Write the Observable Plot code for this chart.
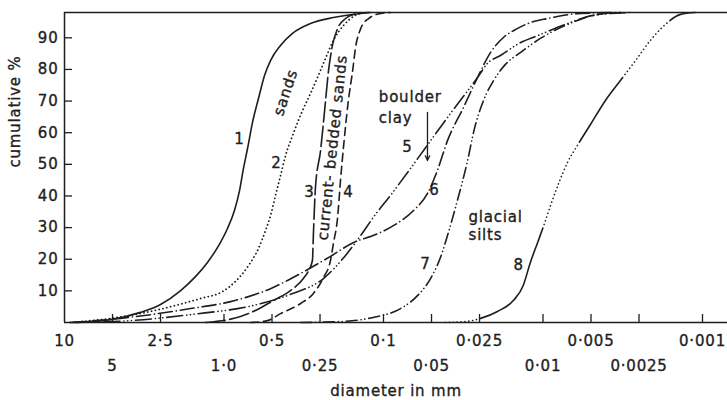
<!DOCTYPE html>
<html>
<head>
<meta charset="utf-8">
<script src="https://cdn.jsdelivr.net/npm/d3@7"></script>
<script src="https://cdn.jsdelivr.net/npm/@observablehq/plot@0.6"></script>
<style>
  body { margin: 0; background: #fff; }
  svg text { letter-spacing: 0.8px; }
</style>
</head>
<body>
<div id="chart"></div>
<script>
// ---- axis ticks ----
const xTickValues = [10, 5, 2.5, 1, 0.5, 0.25, 0.1, 0.05, 0.025, 0.01, 0.005, 0.0025, 0.001];
const xTickLabels = ["10", "5", "2·5", "1·0", "0·5", "0·25", "0·1", "0·05", "0·025", "0·01", "0·005", "0·0025", "0·001"];
const yTickValues = [10, 20, 30, 40, 50, 60, 70, 80, 90];

// ---- curves: [diameter mm, cumulative %] ----
const curve1 = [[8.53,0],[5.15,0.9],[3.34,3.2],[2.50,5.7],[1.87,10.1],[1.51,14.5],[1.27,19.0],[1.08,24.3],[0.951,29.7],[0.860,35.4],[0.799,41.7],[0.755,48.7],[0.712,55.0],[0.663,63.2],[0.608,70.8],[0.557,78.1],[0.511,82.8],[0.442,87.6],[0.372,91.4],[0.287,94.5],[0.206,96.4],[0.139,97.7],[0.121,98]];
const curve2 = [[9.17,0],[5.15,1.3],[2.89,3.5],[2.01,5.4],[1.40,7.6],[1.02,9.8],[0.847,13.0],[0.702,18.0],[0.608,23.4],[0.549,29.1],[0.511,33.8],[0.475,40.2],[0.442,46.5],[0.411,52.8],[0.367,59.8],[0.322,67.0],[0.287,72.4],[0.256,78.1],[0.231,83.5],[0.206,89.2],[0.178,93.9],[0.150,97.1],[0.130,98]];
const curve3 = [[1.31,0],[0.788,1.9],[0.617,4.1],[0.489,7.0],[0.383,10.1],[0.318,13.9],[0.295,16.4],[0.279,19.6],[0.275,28.1],[0.267,42.7],[0.248,54.4],[0.234,67.0],[0.221,79.7],[0.209,87.6],[0.194,92.9],[0.173,96.1],[0.146,97.7],[0.124,98]];
const curve4 = [[0.682,0],[0.534,0.6],[0.442,2.8],[0.331,6.0],[0.275,9.2],[0.238,14.2],[0.215,19.6],[0.206,25.0],[0.194,33.2],[0.186,44.9],[0.176,58.2],[0.166,70.2],[0.156,79.7],[0.150,86.6],[0.139,92.9],[0.124,96.1],[0.104,97.7],[0.0904,98]];
const curve5 = [[8.91,0],[3.86,0.6],[1.62,2.5],[0.617,5.7],[0.383,8.9],[0.238,13.9],[0.173,21.2],[0.139,27.5],[0.116,33.2],[0.0904,40.2],[0.0707,47.4],[0.0561,54.4],[0.0380,66.1],[0.0257,77.5],[0.0223,81.9],[0.0185,84.4],[0.0138,88.5],[0.0108,90.7],[0.00702,94.5],[0.00483,97.1],[0.00283,98]];
const curve6 = [[9.17,0],[4.46,1.3],[1.62,4.4],[0.910,6.6],[0.511,10.7],[0.331,15.5],[0.215,20.9],[0.154,25.3],[0.112,27.8],[0.0841,31.0],[0.0648,35.4],[0.0530,40.8],[0.0459,48.1],[0.0397,57.5],[0.0315,68.0],[0.0257,77.5],[0.0213,85.4],[0.0177,90.1],[0.0145,92.9],[0.0120,94.8],[0.00937,96.1],[0.00582,97.7],[0.00327,98]];
const curve7 = [[0.331,0],[0.186,0.3],[0.116,1.6],[0.0782,4.4],[0.0612,8.5],[0.0507,13.9],[0.0439,20.6],[0.0397,27.5],[0.0344,38.6],[0.0297,51.2],[0.0269,61.3],[0.0236,70.2],[0.0204,76.5],[0.0172,81.6],[0.0138,85.4],[0.0104,89.8],[0.00702,94.2],[0.00483,97.1],[0.00327,98]];
const curve8 = [[0.0409,0],[0.0306,0.3],[0.0246,1.3],[0.0193,3.5],[0.0153,7.0],[0.0133,11.7],[0.0120,19.0],[0.0108,25.3],[0.00993,30.4],[0.00897,37.0],[0.00799,43.9],[0.00702,50.6],[0.00608,56.0],[0.00504,62.6],[0.00406,70.2],[0.00327,76.5],[0.00263,82.8],[0.00212,89.2],[0.00171,94.2],[0.00137,97.4],[0.00111,98]];

// ---- annotations: [text, diameter, %] ----
const numberLabels = [["1",0.799,57.9],["2",0.469,50.3],["3",0.291,41.1],["4",0.166,41.1],["5",0.0707,55.3],["6",0.0479,41.7],["7",0.0545,18.3],["8",0.0142,18.0]];
const groupLabels = [["boulder",0.107,71.1],["clay",0.107,64.5],["glacial",0.0293,33.2],["silts",0.0293,27.5]];
const sandsLabel = [["sands",0.411,72.7]];
const bedLabel = [["current- bedded sands",0.209,55.3]];
const arrowSpec = [[0.0530,66.4,0.0530,51.2]];
const xTitle = "diameter in mm";
const yTitle = "cumulative %";

// ---- styles ----
function pattern(segs) {
  const out = [];
  for (const [kind, len] of segs) {
    if (kind === "dot") { const n = Math.max(1, Math.round(len / 3.9)); for (let i = 0; i < n; i++) out.push(0.1, 3.8); }
    else out.push(len, 3.8);
  }
  return out.join(",");
}
const ink = "#1e1e1e";
const lineBase = {x: d => d[0], y: d => d[1], stroke: ink, strokeWidth: 1.6, curve: "monotone-x", strokeLinecap: "round"};
const seriesStyles = [
  [curve1, {}],
  [curve2, {strokeDasharray: "0.1,3.8", strokeWidth: 1.8}],
  [curve3, {strokeDasharray: "20,4.5"}],
  [curve4, {strokeDasharray: "8,5"}],
  [curve5, {strokeDasharray: "16,4,0.1,3.6,0.1,3.6,0.1,4"}],
  [curve6, {strokeDasharray: "14,4,0.1,4"}],
  [curve7, {strokeDasharray: "11,4,0.1,3.6,0.1,4"}],
  [curve8, {strokeDasharray: pattern([["dot",35],["solid",117],["dot",88],["solid",78],["dot",72],["solid",80]])}]
];

const topRow = xTickValues.filter((d, i) => i % 2 === 0);
const bottomRow = xTickValues.filter((d, i) => i % 2 === 1);
const fmt = d => xTickLabels[xTickValues.indexOf(d)];
const font = {fontSize: 15, fill: ink, stroke: ink, strokeWidth: 0.35};

const chart = Plot.plot({
  width: 727,
  height: 400,
  marginLeft: 64,
  marginRight: 0,
  marginTop: 12,
  marginBottom: 78,
  style: {fontFamily: "'DejaVu Sans', sans-serif", background: "#fff"},
  x: {type: "log", domain: [10, 0.000697], axis: null},
  y: {domain: [0, 98], axis: null},
  marks: [
    // frame
    Plot.ruleX([10], {stroke: ink, strokeWidth: 1.5}),
    Plot.ruleY([0, 98], {stroke: ink, strokeWidth: 1.5}),
    // inward ticks
    Plot.tickX(xTickValues.slice(1), {x: d => d, stroke: ink, strokeWidth: 1.3, insetTop: 302}),
    Plot.tickY(yTickValues, {y: d => d, stroke: ink, strokeWidth: 1.3, insetRight: 655}),
    // tick labels
    Plot.text(yTickValues, {y: d => d, text: d => String(d), frameAnchor: "left", dx: -6, textAnchor: "end", ...font}),
    Plot.text(topRow, {x: d => d, text: fmt, frameAnchor: "bottom", dy: 23, ...font}),
    Plot.text(bottomRow, {x: d => d, text: fmt, frameAnchor: "bottom", dy: 48, ...font}),
    // axis titles
    Plot.text([xTitle], {text: d => d, frameAnchor: "bottom", dy: 73, ...font}),
    Plot.text([yTitle], {text: d => d, frameAnchor: "left", dx: -49, rotate: -90, ...font}),
    // curves
    ...seriesStyles.map(([data, st]) => Plot.line(data, {...lineBase, ...st})),
    // annotations
    Plot.text(numberLabels, {x: d => d[1], y: d => d[2], text: d => d[0], ...font}),
    Plot.text(groupLabels, {x: d => d[1], y: d => d[2], text: d => d[0], textAnchor: "start", ...font}),
    Plot.text(sandsLabel, {x: d => d[1], y: d => d[2], text: d => d[0], rotate: -72, ...font}),
    Plot.text(bedLabel, {x: d => d[1], y: d => d[2], text: d => d[0], rotate: -84, ...font}),
    Plot.arrow(arrowSpec, {x1: d => d[0], y1: d => d[1], x2: d => d[2], y2: d => d[3], stroke: ink, strokeWidth: 1.3, headLength: 6, headAngle: 50})
  ]
});
document.getElementById("chart").appendChild(chart);
</script>
</body>
</html>
